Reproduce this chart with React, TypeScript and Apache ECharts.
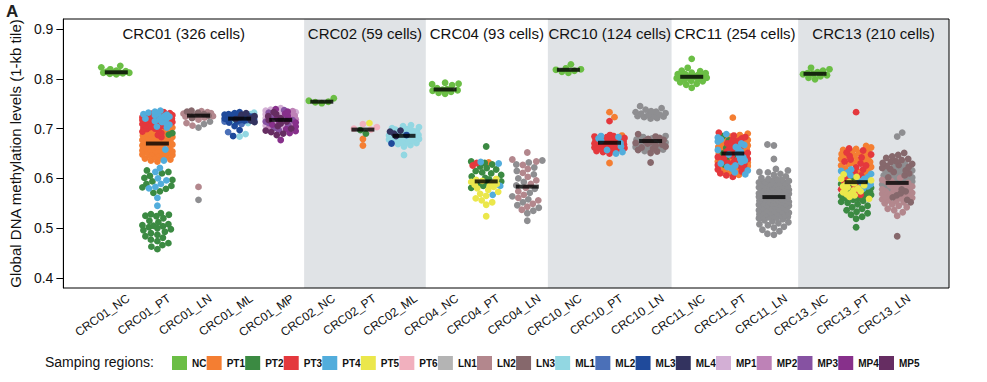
import React, { useEffect, useRef } from "react";
import * as echarts from "echarts";

type Group = [string, number[]][];

const categories = [
  "CRC01_NC", "CRC01_PT", "CRC01_LN", "CRC01_ML", "CRC01_MP",
  "CRC02_NC", "CRC02_PT", "CRC02_ML",
  "CRC04_NC", "CRC04_PT", "CRC04_LN",
  "CRC10_NC", "CRC10_PT", "CRC10_LN",
  "CRC11_NC", "CRC11_PT", "CRC11_LN",
  "CRC13_NC", "CRC13_PT", "CRC13_LN",
];

const regions = ["NC", "PT1", "PT2", "PT3", "PT4", "PT5", "PT6", "LN1", "LN2", "LN3", "ML1", "ML2", "ML3", "ML4", "MP1", "MP2", "MP3", "MP4", "MP5"];
const regionColors = ["#6BBE45", "#F47E32", "#3B8A42", "#E4383D", "#52ADDC", "#EBE74B", "#F1B0BE", "#8E8E91", "#B3878D", "#86686C", "#92D7E2", "#4B70B8", "#1F4A9B", "#33335F", "#D3AFD5", "#BE82B7", "#8652A2", "#87308B", "#662D62"];
const legendSwatches = ["#6BBE45", "#F47E32", "#3B8A42", "#E4383D", "#52ADDC", "#EBE74B", "#F1B0BE", "#B4B4B4", "#B3878D", "#86686C", "#92D7E2", "#4B70B8", "#1F4A9B", "#33335F", "#D3AFD5", "#BE82B7", "#8652A2", "#87308B", "#662D62"];

const panelTitles = ["CRC01 (326 cells)", "CRC02 (59 cells)", "CRC04 (93 cells)", "CRC10 (124 cells)", "CRC11 (254 cells)", "CRC13 (210 cells)"];
const panelEdges = [-1.288, 4.57, 7.53, 10.5, 13.51, 16.59, 20.26];
const panelShaded = [false, true, false, true, false, true];
const yTicks = [0.4, 0.5, 0.6, 0.7, 0.8, 0.9];

const CRC01_NC: Group = [["NC", [0.809, 0.811, 0.81, 0.812, 0.813, 0.812, 0.814, 0.815, 0.813, 0.816, 0.819, 0.823, 0.826]]];
const CRC01_PT: Group = [
  ["PT3", [0.733, 0.731, 0.73, 0.728, 0.727, 0.726, 0.725, 0.724, 0.723, 0.722, 0.721, 0.72, 0.719, 0.717, 0.716, 0.716, 0.714, 0.713, 0.711, 0.71, 0.709, 0.708, 0.706, 0.705, 0.704, 0.703, 0.701, 0.7, 0.699, 0.697, 0.694, 0.691, 0.687, 0.683]],
  ["PT4", [0.736, 0.734, 0.732, 0.73, 0.729, 0.728, 0.727, 0.725, 0.724, 0.722, 0.721, 0.72, 0.718, 0.717, 0.715, 0.713, 0.711, 0.708, 0.704, 0.702, 0.658, 0.636, 0.621, 0.613, 0.6, 0.596, 0.589, 0.583, 0.58, 0.561, 0.545]],
  ["PT1", [0.702, 0.699, 0.697, 0.696, 0.694, 0.692, 0.69, 0.689, 0.687, 0.686, 0.685, 0.683, 0.682, 0.68, 0.679, 0.677, 0.676, 0.675, 0.674, 0.673, 0.672, 0.671, 0.671, 0.669, 0.668, 0.666, 0.665, 0.664, 0.662, 0.661, 0.66, 0.658, 0.657, 0.656, 0.655, 0.654, 0.653, 0.652, 0.651, 0.65, 0.649, 0.648, 0.647, 0.646, 0.645, 0.643, 0.641, 0.64, 0.638, 0.636, 0.634]],
  ["PT2", [0.691, 0.688, 0.616, 0.613, 0.61, 0.605, 0.601, 0.597, 0.594, 0.589, 0.585, 0.582, 0.579, 0.574, 0.571, 0.53, 0.528, 0.527, 0.525, 0.524, 0.52, 0.515, 0.512, 0.508, 0.506, 0.505, 0.504, 0.502, 0.5, 0.498, 0.496, 0.493, 0.49, 0.487, 0.484, 0.481, 0.477, 0.474, 0.47, 0.466, 0.463, 0.458]],
];
const CRC01_LN: Group = [
  ["LN2", [0.735, 0.733, 0.731, 0.73, 0.728, 0.727, 0.726, 0.725, 0.724, 0.722, 0.718, 0.711, 0.706, 0.583]],
  ["LN3", [0.736, 0.734, 0.732, 0.729, 0.726, 0.721]],
  ["LN1", [0.728, 0.714, 0.709, 0.702, 0.557]],
];
const CRC01_ML: Group = [
  ["ML3", [0.733, 0.731, 0.729, 0.728, 0.727, 0.726, 0.725, 0.724, 0.723, 0.722, 0.721, 0.72, 0.719, 0.718, 0.717, 0.716, 0.714, 0.712, 0.705, 0.697, 0.685]],
  ["ML4", [0.731, 0.728, 0.725, 0.723, 0.721, 0.719, 0.716, 0.713]],
  ["ML1", [0.732, 0.729, 0.726, 0.722, 0.718, 0.715, 0.711, 0.689, 0.684]],
  ["ML2", [0.727, 0.724, 0.72, 0.717, 0.714, 0.709, 0.693]],
];
const CRC01_MP: Group = [
  ["MP1", [0.741, 0.738, 0.736, 0.734, 0.733, 0.731, 0.729, 0.727, 0.725, 0.723, 0.721, 0.718, 0.715, 0.712, 0.709, 0.706, 0.703]],
  ["MP2", [0.735, 0.73, 0.726, 0.722, 0.719, 0.716, 0.713, 0.708, 0.702]],
  ["MP3", [0.737, 0.732, 0.728, 0.724, 0.72, 0.717, 0.714, 0.711, 0.707, 0.701, 0.697]],
  ["MP4", [0.739, 0.734, 0.73, 0.726, 0.722, 0.719, 0.716, 0.712, 0.708, 0.704, 0.699, 0.695, 0.691, 0.677]],
  ["MP5", [0.733, 0.729, 0.725, 0.721, 0.717, 0.714, 0.71, 0.705, 0.7, 0.696, 0.693, 0.69, 0.687]],
];
const CRC02_NC: Group = [["NC", [0.751, 0.753, 0.754, 0.756, 0.761]]];
const CRC02_PT: Group = [
  ["PT6", [0.709, 0.703, 0.7, 0.698]],
  ["PT5", [0.711]],
  ["PT2", [0.697, 0.69]],
  ["PT1", [0.679, 0.666]],
];
const CRC02_ML: Group = [
  ["ML1", [0.707, 0.705, 0.703, 0.701, 0.699, 0.698, 0.696, 0.695, 0.693, 0.692, 0.691, 0.689, 0.688, 0.687, 0.686, 0.685, 0.684, 0.683, 0.682, 0.681, 0.68, 0.679, 0.678, 0.677, 0.676, 0.674, 0.672, 0.671, 0.669, 0.667, 0.664, 0.647]],
  ["ML4", [0.696, 0.694, 0.69, 0.685]],
  ["ML3", [0.687, 0.67]],
];
const CRC04_NC: Group = [["NC", [0.792, 0.79, 0.789, 0.787, 0.781, 0.779, 0.778, 0.777, 0.776, 0.774, 0.772, 0.77]]];
const CRC04_PT: Group = [
  ["PT2", [0.664, 0.634, 0.631, 0.628, 0.624, 0.621, 0.618, 0.615, 0.612, 0.61, 0.607, 0.604, 0.601, 0.598, 0.594, 0.591, 0.588, 0.585, 0.581]],
  ["PT4", [0.633, 0.63, 0.585, 0.567]],
  ["PT1", [0.632]],
  ["PT3", [0.631, 0.626]],
  ["PT5", [0.599, 0.597, 0.595, 0.593, 0.591, 0.589, 0.587, 0.585, 0.583, 0.58, 0.577, 0.573, 0.569, 0.565, 0.56, 0.556, 0.552, 0.547, 0.524]],
];
const CRC04_LN: Group = [
  ["LN2", [0.652, 0.638, 0.634, 0.627, 0.619, 0.611, 0.603, 0.596, 0.589, 0.581, 0.574, 0.567, 0.561, 0.556, 0.549, 0.543, 0.537]],
  ["LN1", [0.636, 0.632, 0.628, 0.622, 0.615, 0.608, 0.6, 0.593, 0.586, 0.579, 0.571, 0.564, 0.558, 0.552, 0.546, 0.541, 0.535, 0.53, 0.515]],
];
const CRC10_NC: Group = [["NC", [0.829, 0.821, 0.819, 0.818, 0.816, 0.814, 0.812]]];
const CRC10_PT: Group = [
  ["PT3", [0.715, 0.687, 0.685, 0.684, 0.683, 0.681, 0.68, 0.679, 0.678, 0.677, 0.677, 0.676, 0.675, 0.674, 0.673, 0.672, 0.672, 0.671, 0.67, 0.669, 0.668, 0.668, 0.667, 0.666, 0.665, 0.664, 0.664, 0.663, 0.662, 0.661, 0.66, 0.659, 0.657, 0.655, 0.653, 0.65]],
  ["PT4", [0.685, 0.683, 0.68, 0.676, 0.671, 0.664, 0.657, 0.653, 0.65]],
  ["PT1", [0.733, 0.723, 0.686, 0.674, 0.631]],
];
const CRC10_LN: Group = [
  ["LN1", [0.745, 0.741, 0.738, 0.735, 0.734, 0.733, 0.731, 0.73, 0.728, 0.727, 0.726, 0.725, 0.724, 0.723, 0.721, 0.72, 0.685, 0.683, 0.68, 0.678, 0.676, 0.675, 0.674, 0.673, 0.672, 0.671, 0.669, 0.669, 0.667, 0.665, 0.663, 0.662, 0.661, 0.658, 0.655]],
  ["LN3", [0.689, 0.684, 0.681, 0.679, 0.677, 0.675, 0.673, 0.671, 0.67, 0.668, 0.666, 0.664, 0.662, 0.66, 0.657, 0.654, 0.651, 0.632]],
];
const CRC11_NC: Group = [["NC", [0.84, 0.822, 0.816, 0.815, 0.812, 0.811, 0.809, 0.809, 0.807, 0.806, 0.805, 0.804, 0.804, 0.802, 0.801, 0.799, 0.798, 0.796, 0.795, 0.793, 0.79, 0.788, 0.782]]];
const CRC11_PT: Group = [
  ["PT1", [0.722, 0.69, 0.687, 0.684, 0.681, 0.679, 0.677, 0.675, 0.674, 0.671, 0.669, 0.667, 0.666, 0.663, 0.662, 0.66, 0.658, 0.657, 0.655, 0.653, 0.652, 0.65, 0.649, 0.647, 0.645, 0.644, 0.642, 0.64, 0.638, 0.636, 0.634, 0.632, 0.63, 0.628, 0.625, 0.622, 0.619, 0.615, 0.611, 0.607]],
  ["PT3", [0.692, 0.686, 0.683, 0.68, 0.678, 0.676, 0.674, 0.672, 0.67, 0.668, 0.666, 0.664, 0.661, 0.659, 0.656, 0.654, 0.651, 0.648, 0.646, 0.643, 0.641, 0.639, 0.637, 0.635, 0.633, 0.631, 0.629, 0.627, 0.624, 0.621, 0.618, 0.614, 0.61, 0.606, 0.603]],
  ["PT4", [0.689, 0.682, 0.678, 0.674, 0.67, 0.667, 0.663, 0.66, 0.657, 0.654, 0.651, 0.648, 0.645, 0.642, 0.639, 0.636, 0.633, 0.63, 0.626, 0.623, 0.62, 0.616, 0.612, 0.608]],
  ["PT2", [0.685, 0.676, 0.668, 0.661, 0.65, 0.643, 0.637, 0.628]],
];
const CRC11_LN: Group = [
  ["LN1", [
    0.668, 0.666, 0.639, 0.619, 0.616, 0.613, 0.612, 0.609, 0.607, 0.604, 0.601,
    0.599, 0.598, 0.597, 0.596, 0.595, 0.593, 0.592, 0.591, 0.59, 0.589, 0.588, 0.587, 0.586, 0.585, 0.584, 0.583, 0.582, 0.582, 0.581, 0.58,
    0.579, 0.578, 0.578, 0.577, 0.576, 0.575, 0.575, 0.574, 0.573, 0.572, 0.572, 0.571, 0.57, 0.57, 0.569, 0.568, 0.568, 0.567, 0.567, 0.566, 0.566, 0.565, 0.565, 0.564, 0.564, 0.564, 0.563, 0.563, 0.563,
    0.562, 0.562, 0.561, 0.561, 0.56, 0.559, 0.559, 0.558, 0.557, 0.556, 0.556, 0.555, 0.554, 0.553, 0.552, 0.551, 0.551, 0.55, 0.549, 0.548, 0.547, 0.546, 0.545, 0.544, 0.543, 0.542, 0.541,
    0.539, 0.538, 0.537, 0.536, 0.535, 0.534, 0.533, 0.532, 0.531, 0.53, 0.529, 0.528, 0.527, 0.526, 0.525, 0.524, 0.523, 0.522, 0.521, 0.52,
    0.518, 0.516, 0.514, 0.512, 0.51, 0.508, 0.506, 0.503, 0.501,
    0.497, 0.494, 0.489, 0.487,
  ]],
];
const CRC13_NC: Group = [["NC", [0.822, 0.819, 0.816, 0.813, 0.811, 0.81, 0.809, 0.807, 0.805, 0.802, 0.799]]];
const CRC13_PT: Group = [
  ["PT1", [0.665, 0.662, 0.659, 0.657, 0.655, 0.653, 0.651, 0.649, 0.647, 0.645, 0.643, 0.641, 0.639, 0.637, 0.635, 0.633, 0.631, 0.629, 0.626, 0.623, 0.62, 0.617, 0.613, 0.609]],
  ["PT3", [0.733, 0.66, 0.656, 0.652, 0.648, 0.645, 0.642, 0.638, 0.634, 0.63, 0.626, 0.622, 0.618, 0.612, 0.606, 0.6, 0.594, 0.588, 0.583, 0.578, 0.573, 0.567]],
  ["PT4", [0.618, 0.615, 0.612, 0.609, 0.606, 0.603, 0.599, 0.595, 0.591, 0.588, 0.584, 0.579]],
  ["PT5", [0.608, 0.603, 0.599, 0.596, 0.593, 0.59, 0.588, 0.586, 0.584, 0.582, 0.58, 0.578, 0.576, 0.574, 0.572, 0.57, 0.568, 0.566, 0.563, 0.559]],
  ["PT2", [0.598, 0.592, 0.589, 0.586, 0.584, 0.581, 0.579, 0.577, 0.575, 0.573, 0.571, 0.569, 0.567, 0.565, 0.563, 0.561, 0.559, 0.557, 0.555, 0.553, 0.551, 0.548, 0.545, 0.542, 0.539, 0.536, 0.533, 0.53, 0.527, 0.523, 0.519, 0.502]],
];
const CRC13_LN: Group = [
  ["LN3", [0.651, 0.647, 0.644, 0.641, 0.639, 0.637, 0.635, 0.633, 0.631, 0.629, 0.627, 0.625, 0.623, 0.621, 0.619, 0.616, 0.613, 0.61, 0.606, 0.602, 0.578, 0.574, 0.57, 0.566, 0.562, 0.557, 0.552, 0.484]],
  ["LN1", [0.692, 0.684, 0.628, 0.624, 0.621, 0.618, 0.616, 0.614, 0.612, 0.61, 0.608, 0.606, 0.604, 0.602, 0.6, 0.598, 0.596, 0.594, 0.592, 0.588, 0.583, 0.577]],
  ["LN2", [0.601, 0.597, 0.595, 0.593, 0.591, 0.589, 0.587, 0.586, 0.584, 0.583, 0.581, 0.58, 0.578, 0.577, 0.575, 0.574, 0.572, 0.571, 0.569, 0.568, 0.566, 0.565, 0.563, 0.561, 0.56, 0.558, 0.556, 0.554, 0.552, 0.55, 0.548, 0.545, 0.542, 0.539, 0.536, 0.532, 0.525]],
];

const groups: Group[] = [
  CRC01_NC, CRC01_PT, CRC01_LN, CRC01_ML, CRC01_MP,
  CRC02_NC, CRC02_PT, CRC02_ML,
  CRC04_NC, CRC04_PT, CRC04_LN,
  CRC10_NC, CRC10_PT, CRC10_LN,
  CRC11_NC, CRC11_PT, CRC11_LN,
  CRC13_NC, CRC13_PT, CRC13_LN,
];

// axis extents and plot box
const X_MIN = -1.288;
const X_MAX = 20.26;
const Y_MIN = 0.38;
const Y_MAX = 0.92;
const GRID = { left: 62, right: 38, top: 19, bottom: 94 };
// pixels per axis unit, only used to lay the beeswarm offsets out
const PX_X = (987 - GRID.left - GRID.right) / (X_MAX - X_MIN);
const PX_Y = (382 - GRID.top - GRID.bottom) / (Y_MAX - Y_MIN);

function swarm(points: { v: number; r: string }[]) {
  const sorted = points.slice().sort((a, b) => a.v - b.v);
  const placed: { x: number; y: number; v: number; r: string }[] = [];
  const D = 6.2;
  const MAXW = 15;
  sorted.forEach((p, idx) => {
    const y = p.v * PX_Y;
    const near = placed.filter((q) => Math.abs(q.y - y) < D);
    let chosen = 0;
    let found = false;
    let bestX = 0;
    let bestScore = -Infinity;
    const sign = idx % 2 === 0 ? 1 : -1;
    for (let s = 0; s <= MAXW && !found; s += 0.5) {
      const cands = s === 0 ? [0] : [sign * s, -sign * s];
      for (const c of cands) {
        let md = Infinity;
        for (const q of near) {
          const d = Math.hypot(q.x - c, q.y - y);
          if (d < md) md = d;
        }
        if (md >= D) {
          chosen = c;
          found = true;
          break;
        }
        if (md > bestScore) {
          bestScore = md;
          bestX = c;
        }
      }
    }
    if (!found) chosen = bestX;
    placed.push({ x: chosen, y, v: p.v, r: p.r });
  });
  return placed;
}

function median(vals: number[]) {
  const s = vals.slice().sort((a, b) => a - b);
  const n = s.length;
  return n % 2 ? s[(n - 1) / 2] : (s[n / 2 - 1] + s[n / 2]) / 2;
}

export default function App() {
  const ref = useRef<HTMLDivElement>(null);
  useEffect(() => {
    if (!ref.current) return;
    const chart = echarts.init(ref.current, null, { renderer: "svg" });

    const byRegion: Record<string, number[][]> = {};
    regions.forEach((r) => (byRegion[r] = []));
    const medians: number[][] = [];
    groups.forEach((g, ci) => {
      const pts: { v: number; r: string }[] = [];
      g.forEach(([r, vals]) => vals.forEach((v) => pts.push({ v, r })));
      swarm(pts).forEach((p) => byRegion[p.r].push([ci + p.x / PX_X, p.v]));
      medians.push([ci, median(pts.map((p) => p.v))]);
    });

    const font = "'Liberation Sans', Arial, Helvetica, sans-serif";

    const option: any = {
      animation: false,
      textStyle: { fontFamily: font },
      title: [
        { text: "A", left: 6, top: 3, padding: 0, textStyle: { fontSize: 17, fontWeight: "bold", color: "#222", fontFamily: font } },
        { text: "Samping regions:", left: 45, top: 355, padding: 0, textStyle: { fontSize: 14, fontWeight: "normal", color: "#111", fontFamily: font } },
      ],
      legend: {
        data: regions.map((r, i) => ({ name: r, itemStyle: { color: legendSwatches[i] } })),
        icon: "rect",
        itemWidth: 15,
        itemHeight: 14,
        itemGap: 0.2,
        left: 172,
        top: 356,
        padding: 0,
        selectedMode: false,
        textStyle: { fontSize: 10, fontWeight: "bold", color: "#111", width: 21, fontFamily: font },
      },
      grid: { ...GRID, show: true, borderColor: "#000", borderWidth: 1, backgroundColor: "transparent", z: 10 },
      xAxis: [
        {
          type: "value", min: X_MIN, max: X_MAX,
          axisLine: { show: false }, axisTick: { show: false }, axisLabel: { show: false }, splitLine: { show: false },
        },
        {
          type: "value", min: X_MIN - 0.29, max: X_MAX - 0.29, position: "bottom",
          axisLine: { show: false }, axisTick: { show: false }, splitLine: { show: false },
          axisLabel: {
            customValues: categories.map((_, i) => i),
            formatter: (v: number) => categories[Math.round(v)] ?? "",
            rotate: 35, fontSize: 12, margin: 9, color: "#111", fontFamily: font,
          },
        },
      ],
      yAxis: {
        type: "value", min: Y_MIN, max: Y_MAX,
        name: "Global DNA methylation levels (1-kb tile)",
        nameLocation: "middle", nameGap: 34,
        nameTextStyle: { fontSize: 15, color: "#111", fontFamily: font },
        axisLine: { show: true, onZero: false, lineStyle: { color: "#000", width: 1 } },
        axisTick: { show: true, length: 7, customValues: yTicks, lineStyle: { color: "#000" } },
        axisLabel: { customValues: yTicks, formatter: (v: number) => v.toFixed(1), fontSize: 14, margin: 10, color: "#111", fontFamily: font },
        splitLine: { show: false },
        z: 10,
      },
      series: [
        {
          type: "scatter", name: "panels", data: [], z: 0, silent: true,
          markArea: {
            silent: true,
            label: { show: true, position: "insideTop", distance: 7, fontSize: 15, color: "#111", fontFamily: font },
            data: panelTitles.map((t, i) => [
              { name: t, xAxis: panelEdges[i], itemStyle: { color: panelShaded[i] ? "#E0E3E6" : "rgba(0,0,0,0)" } },
              { xAxis: panelEdges[i + 1] },
            ]),
          },
        },
        ...regions.map((r, i) => ({
          type: "scatter", name: r, data: byRegion[r], symbolSize: 6.8, z: 2,
          itemStyle: { color: regionColors[i], opacity: 1 },
        })),
        {
          type: "scatter", name: "median", data: medians, symbol: "rect", symbolSize: [23, 4], z: 3,
          itemStyle: { color: "#000" },
        },
      ],
    };
    chart.setOption(option);
    return () => chart.dispose();
  }, []);
  return <div ref={ref} style={{ position: "fixed", left: 0, top: 0, width: 987, height: 382, background: "#fff" }} />;
}
